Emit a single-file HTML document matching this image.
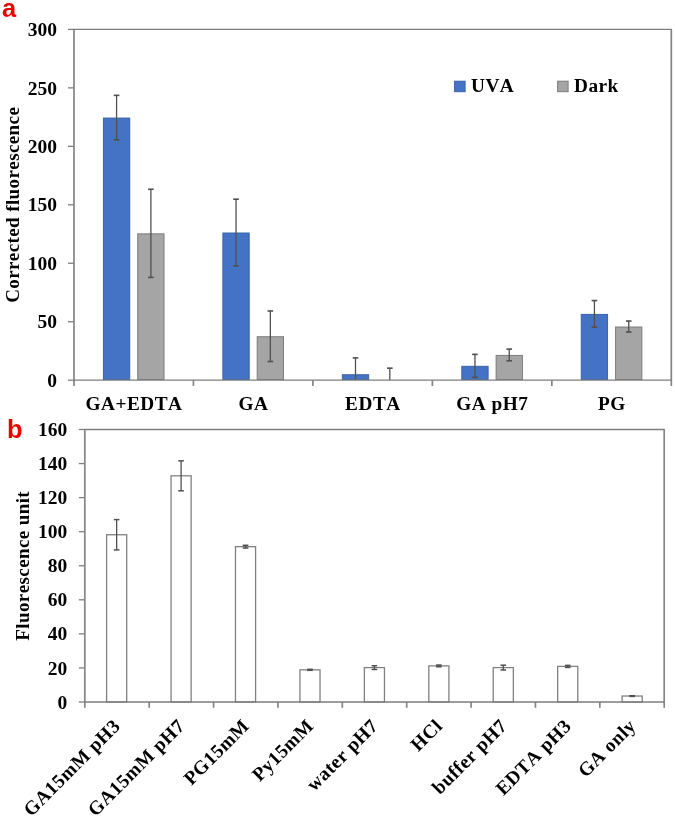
<!DOCTYPE html>
<html><head><meta charset="utf-8"><style>
html,body{margin:0;padding:0;background:#fff;width:675px;height:817px;overflow:hidden}
svg{display:block;font-kerning:none;will-change:transform}
.t{font-kerning:none;font-family:"Liberation Serif",serif;font-weight:bold;font-size:20px;fill:#000}
.b{font-size:20px}
.bt{font-size:19.5px}
.yl{font-size:19px;letter-spacing:0.4px}
.xl{font-size:19.3px;letter-spacing:0.5px}
.p{font-family:"Liberation Sans",sans-serif;font-weight:bold;font-size:25.5px;fill:#ee0000}
</style></head><body>
<svg width="675" height="817" viewBox="0 0 675 817">
<line x1="68.0" y1="380.2" x2="74.0" y2="380.2" stroke="#7e7e7e" stroke-width="1.3"/>
<text x="57" y="386.9" class="t bt" text-anchor="end">0</text>
<line x1="68.0" y1="321.73" x2="74.0" y2="321.73" stroke="#7e7e7e" stroke-width="1.3"/>
<text x="57" y="328.43" class="t bt" text-anchor="end">50</text>
<line x1="68.0" y1="263.26" x2="74.0" y2="263.26" stroke="#7e7e7e" stroke-width="1.3"/>
<text x="57" y="269.96" class="t bt" text-anchor="end">100</text>
<line x1="68.0" y1="204.79" x2="74.0" y2="204.79" stroke="#7e7e7e" stroke-width="1.3"/>
<text x="57" y="211.49" class="t bt" text-anchor="end">150</text>
<line x1="68.0" y1="146.33" x2="74.0" y2="146.33" stroke="#7e7e7e" stroke-width="1.3"/>
<text x="57" y="153.03" class="t bt" text-anchor="end">200</text>
<line x1="68.0" y1="87.86" x2="74.0" y2="87.86" stroke="#7e7e7e" stroke-width="1.3"/>
<text x="57" y="94.56" class="t bt" text-anchor="end">250</text>
<line x1="68.0" y1="29.39" x2="74.0" y2="29.39" stroke="#7e7e7e" stroke-width="1.3"/>
<text x="57" y="36.09" class="t bt" text-anchor="end">300</text>
<line x1="74.0" y1="380.2" x2="74.0" y2="386.0" stroke="#858585" stroke-width="1.7"/>
<line x1="193.45" y1="380.2" x2="193.45" y2="386.0" stroke="#858585" stroke-width="1.7"/>
<line x1="312.91" y1="380.2" x2="312.91" y2="386.0" stroke="#858585" stroke-width="1.7"/>
<line x1="432.38" y1="380.2" x2="432.38" y2="386.0" stroke="#858585" stroke-width="1.7"/>
<line x1="551.83" y1="380.2" x2="551.83" y2="386.0" stroke="#858585" stroke-width="1.7"/>
<line x1="671.3" y1="380.2" x2="671.3" y2="386.0" stroke="#858585" stroke-width="1.7"/>
<rect x="103.43" y="118.07" width="26.30" height="261.43" fill="#4472c4" stroke="#3b63aa" stroke-width="1"/>
<line x1="116.58" y1="95.35" x2="116.58" y2="139.79" stroke="#505050" stroke-width="1.3"/>
<line x1="113.78" y1="95.35" x2="119.38" y2="95.35" stroke="#505050" stroke-width="1.6"/>
<line x1="113.78" y1="139.79" x2="119.38" y2="139.79" stroke="#505050" stroke-width="1.6"/>
<rect x="137.73" y="233.83" width="26.30" height="145.67" fill="#a5a5a5" stroke="#7d7d7d" stroke-width="1"/>
<line x1="150.88" y1="189.25" x2="150.88" y2="277.42" stroke="#505050" stroke-width="1.3"/>
<line x1="148.08" y1="189.25" x2="153.68" y2="189.25" stroke="#505050" stroke-width="1.6"/>
<line x1="148.08" y1="277.42" x2="153.68" y2="277.42" stroke="#505050" stroke-width="1.6"/>
<text x="133.98" y="410.4" class="t xl" text-anchor="middle">GA+EDTA</text>
<rect x="222.89" y="233.01" width="26.30" height="146.49" fill="#4472c4" stroke="#3b63aa" stroke-width="1"/>
<line x1="236.04" y1="199.19" x2="236.04" y2="265.84" stroke="#505050" stroke-width="1.3"/>
<line x1="233.24" y1="199.19" x2="238.84" y2="199.19" stroke="#505050" stroke-width="1.6"/>
<line x1="233.24" y1="265.84" x2="238.84" y2="265.84" stroke="#505050" stroke-width="1.6"/>
<rect x="257.19" y="336.73" width="26.30" height="42.77" fill="#a5a5a5" stroke="#7d7d7d" stroke-width="1"/>
<line x1="270.34" y1="310.98" x2="270.34" y2="361.49" stroke="#505050" stroke-width="1.3"/>
<line x1="267.54" y1="310.98" x2="273.14" y2="310.98" stroke="#505050" stroke-width="1.6"/>
<line x1="267.54" y1="361.49" x2="273.14" y2="361.49" stroke="#505050" stroke-width="1.6"/>
<text x="253.44" y="410.4" class="t xl" text-anchor="middle">GA</text>
<rect x="342.35" y="374.74" width="26.30" height="4.76" fill="#4472c4" stroke="#3b63aa" stroke-width="1"/>
<line x1="355.50" y1="357.87" x2="355.50" y2="380.20" stroke="#505050" stroke-width="1.3"/>
<line x1="352.70" y1="357.87" x2="358.30" y2="357.87" stroke="#505050" stroke-width="1.6"/>
<line x1="389.80" y1="368.16" x2="389.80" y2="380.20" stroke="#505050" stroke-width="1.3"/>
<line x1="387.00" y1="368.16" x2="392.60" y2="368.16" stroke="#505050" stroke-width="1.6"/>
<text x="372.90" y="410.4" class="t xl" text-anchor="middle">EDTA</text>
<rect x="461.81" y="366.32" width="26.30" height="13.18" fill="#4472c4" stroke="#3b63aa" stroke-width="1"/>
<line x1="474.96" y1="354.36" x2="474.96" y2="377.28" stroke="#505050" stroke-width="1.3"/>
<line x1="472.16" y1="354.36" x2="477.76" y2="354.36" stroke="#505050" stroke-width="1.6"/>
<line x1="472.16" y1="377.28" x2="477.76" y2="377.28" stroke="#505050" stroke-width="1.6"/>
<rect x="496.11" y="355.44" width="26.30" height="24.06" fill="#a5a5a5" stroke="#7d7d7d" stroke-width="1"/>
<line x1="509.26" y1="349.10" x2="509.26" y2="360.79" stroke="#505050" stroke-width="1.3"/>
<line x1="506.46" y1="349.10" x2="512.06" y2="349.10" stroke="#505050" stroke-width="1.6"/>
<line x1="506.46" y1="360.79" x2="512.06" y2="360.79" stroke="#505050" stroke-width="1.6"/>
<text x="492.36" y="410.4" class="t xl" text-anchor="middle">GA pH7</text>
<rect x="581.27" y="314.40" width="26.30" height="65.10" fill="#4472c4" stroke="#3b63aa" stroke-width="1"/>
<line x1="594.42" y1="300.57" x2="594.42" y2="327.23" stroke="#505050" stroke-width="1.3"/>
<line x1="591.62" y1="300.57" x2="597.22" y2="300.57" stroke="#505050" stroke-width="1.6"/>
<line x1="591.62" y1="327.23" x2="597.22" y2="327.23" stroke="#505050" stroke-width="1.6"/>
<rect x="615.57" y="327.03" width="26.30" height="52.47" fill="#a5a5a5" stroke="#7d7d7d" stroke-width="1"/>
<line x1="628.72" y1="321.03" x2="628.72" y2="332.02" stroke="#505050" stroke-width="1.3"/>
<line x1="625.92" y1="321.03" x2="631.52" y2="321.03" stroke="#505050" stroke-width="1.6"/>
<line x1="625.92" y1="332.02" x2="631.52" y2="332.02" stroke="#505050" stroke-width="1.6"/>
<text x="611.82" y="410.4" class="t xl" text-anchor="middle">PG</text>
<path d="M73.4 29.4 H672.0 M73.4 380.2 H672.0" fill="none" stroke="#7e7e7e" stroke-width="1.3"/>
<path d="M74.0 29.4 V380.2 M671.3 29.4 V380.2" fill="none" stroke="#858585" stroke-width="1.7"/>
<rect x="454.6" y="81.2" width="10.5" height="10.5" fill="#4472c4" stroke="#3b63aa" stroke-width="1"/>
<text x="471" y="92.3" class="t xl">UVA</text>
<rect x="557.6" y="81.2" width="10.5" height="10.5" fill="#a5a5a5" stroke="#7d7d7d" stroke-width="1"/>
<text x="574" y="92.3" class="t xl">Dark</text>
<text transform="translate(19.2 204.8) rotate(-90)" class="t yl" text-anchor="middle">Corrected fluorescence</text>
<text x="2" y="17" class="p">a</text>
<line x1="78.8" y1="702.0" x2="84.8" y2="702.0" stroke="#7e7e7e" stroke-width="1.3"/>
<text x="67.2" y="708.6" class="t bt" text-anchor="end">0</text>
<line x1="78.8" y1="667.93" x2="84.8" y2="667.93" stroke="#7e7e7e" stroke-width="1.3"/>
<text x="67.2" y="674.53" class="t bt" text-anchor="end">20</text>
<line x1="78.8" y1="633.87" x2="84.8" y2="633.87" stroke="#7e7e7e" stroke-width="1.3"/>
<text x="67.2" y="640.47" class="t bt" text-anchor="end">40</text>
<line x1="78.8" y1="599.81" x2="84.8" y2="599.81" stroke="#7e7e7e" stroke-width="1.3"/>
<text x="67.2" y="606.41" class="t bt" text-anchor="end">60</text>
<line x1="78.8" y1="565.75" x2="84.8" y2="565.75" stroke="#7e7e7e" stroke-width="1.3"/>
<text x="67.2" y="572.35" class="t bt" text-anchor="end">80</text>
<line x1="78.8" y1="531.68" x2="84.8" y2="531.68" stroke="#7e7e7e" stroke-width="1.3"/>
<text x="67.2" y="538.28" class="t bt" text-anchor="end">100</text>
<line x1="78.8" y1="497.62" x2="84.8" y2="497.62" stroke="#7e7e7e" stroke-width="1.3"/>
<text x="67.2" y="504.22" class="t bt" text-anchor="end">120</text>
<line x1="78.8" y1="463.56" x2="84.8" y2="463.56" stroke="#7e7e7e" stroke-width="1.3"/>
<text x="67.2" y="470.16" class="t bt" text-anchor="end">140</text>
<line x1="78.8" y1="429.5" x2="84.8" y2="429.5" stroke="#7e7e7e" stroke-width="1.3"/>
<text x="67.2" y="436.1" class="t bt" text-anchor="end">160</text>
<line x1="84.8" y1="702.0" x2="84.8" y2="707.8" stroke="#858585" stroke-width="1.7"/>
<line x1="149.17" y1="702.0" x2="149.17" y2="707.8" stroke="#858585" stroke-width="1.7"/>
<line x1="213.55" y1="702.0" x2="213.55" y2="707.8" stroke="#858585" stroke-width="1.7"/>
<line x1="277.93" y1="702.0" x2="277.93" y2="707.8" stroke="#858585" stroke-width="1.7"/>
<line x1="342.31" y1="702.0" x2="342.31" y2="707.8" stroke="#858585" stroke-width="1.7"/>
<line x1="406.68" y1="702.0" x2="406.68" y2="707.8" stroke="#858585" stroke-width="1.7"/>
<line x1="471.06" y1="702.0" x2="471.06" y2="707.8" stroke="#858585" stroke-width="1.7"/>
<line x1="535.44" y1="702.0" x2="535.44" y2="707.8" stroke="#858585" stroke-width="1.7"/>
<line x1="599.82" y1="702.0" x2="599.82" y2="707.8" stroke="#858585" stroke-width="1.7"/>
<line x1="664.2" y1="702.0" x2="664.2" y2="707.8" stroke="#858585" stroke-width="1.7"/>
<rect x="106.60" y="534.75" width="20.10" height="167.25" fill="#fff" stroke="#818181" stroke-width="1.3"/>
<line x1="116.65" y1="519.60" x2="116.65" y2="549.91" stroke="#505050" stroke-width="1.3"/>
<line x1="113.85" y1="519.60" x2="119.45" y2="519.60" stroke="#505050" stroke-width="1.5"/>
<line x1="113.85" y1="549.91" x2="119.45" y2="549.91" stroke="#505050" stroke-width="1.5"/>
<text transform="translate(121.45 727.0) rotate(-45)" class="t xl" text-anchor="end">GA15mM pH3</text>
<rect x="171.04" y="475.82" width="20.10" height="226.18" fill="#fff" stroke="#818181" stroke-width="1.3"/>
<line x1="181.09" y1="460.84" x2="181.09" y2="490.81" stroke="#505050" stroke-width="1.3"/>
<line x1="178.29" y1="460.84" x2="183.89" y2="460.84" stroke="#505050" stroke-width="1.5"/>
<line x1="178.29" y1="490.81" x2="183.89" y2="490.81" stroke="#505050" stroke-width="1.5"/>
<text transform="translate(185.89 727.0) rotate(-45)" class="t xl" text-anchor="end">GA15mM pH7</text>
<rect x="235.48" y="546.67" width="20.10" height="155.33" fill="#fff" stroke="#818181" stroke-width="1.3"/>
<line x1="245.53" y1="545.31" x2="245.53" y2="548.04" stroke="#505050" stroke-width="1.3"/>
<line x1="242.73" y1="545.31" x2="248.33" y2="545.31" stroke="#505050" stroke-width="1.5"/>
<line x1="242.73" y1="548.04" x2="248.33" y2="548.04" stroke="#505050" stroke-width="1.5"/>
<text transform="translate(250.33 727.0) rotate(-45)" class="t xl" text-anchor="end">PG15mM</text>
<rect x="299.92" y="669.81" width="20.10" height="32.19" fill="#fff" stroke="#818181" stroke-width="1.3"/>
<line x1="309.97" y1="669.30" x2="309.97" y2="670.32" stroke="#505050" stroke-width="1.3"/>
<line x1="307.17" y1="669.30" x2="312.77" y2="669.30" stroke="#505050" stroke-width="1.5"/>
<line x1="307.17" y1="670.32" x2="312.77" y2="670.32" stroke="#505050" stroke-width="1.5"/>
<text transform="translate(314.77 727.0) rotate(-45)" class="t xl" text-anchor="end">Py15mM</text>
<rect x="364.36" y="667.60" width="20.10" height="34.40" fill="#fff" stroke="#818181" stroke-width="1.3"/>
<line x1="374.41" y1="665.72" x2="374.41" y2="669.47" stroke="#505050" stroke-width="1.3"/>
<line x1="371.61" y1="665.72" x2="377.21" y2="665.72" stroke="#505050" stroke-width="1.5"/>
<line x1="371.61" y1="669.47" x2="377.21" y2="669.47" stroke="#505050" stroke-width="1.5"/>
<text transform="translate(379.21 727.0) rotate(-45)" class="t xl" text-anchor="end">water pH7</text>
<rect x="428.80" y="665.89" width="20.10" height="36.11" fill="#fff" stroke="#818181" stroke-width="1.3"/>
<line x1="438.85" y1="665.04" x2="438.85" y2="666.75" stroke="#505050" stroke-width="1.3"/>
<line x1="436.05" y1="665.04" x2="441.65" y2="665.04" stroke="#505050" stroke-width="1.5"/>
<line x1="436.05" y1="666.75" x2="441.65" y2="666.75" stroke="#505050" stroke-width="1.5"/>
<text transform="translate(443.65 727.0) rotate(-45)" class="t xl" text-anchor="end">HCl</text>
<rect x="493.24" y="667.60" width="20.10" height="34.40" fill="#fff" stroke="#818181" stroke-width="1.3"/>
<line x1="503.29" y1="665.21" x2="503.29" y2="669.98" stroke="#505050" stroke-width="1.3"/>
<line x1="500.49" y1="665.21" x2="506.09" y2="665.21" stroke="#505050" stroke-width="1.5"/>
<line x1="500.49" y1="669.98" x2="506.09" y2="669.98" stroke="#505050" stroke-width="1.5"/>
<text transform="translate(508.09 727.0) rotate(-45)" class="t xl" text-anchor="end">buffer pH7</text>
<rect x="557.68" y="666.40" width="20.10" height="35.60" fill="#fff" stroke="#818181" stroke-width="1.3"/>
<line x1="567.73" y1="665.38" x2="567.73" y2="667.43" stroke="#505050" stroke-width="1.3"/>
<line x1="564.93" y1="665.38" x2="570.53" y2="665.38" stroke="#505050" stroke-width="1.5"/>
<line x1="564.93" y1="667.43" x2="570.53" y2="667.43" stroke="#505050" stroke-width="1.5"/>
<text transform="translate(572.53 727.0) rotate(-45)" class="t xl" text-anchor="end">EDTA pH3</text>
<rect x="622.12" y="696.04" width="20.10" height="5.96" fill="#fff" stroke="#818181" stroke-width="1.3"/>
<line x1="632.17" y1="695.70" x2="632.17" y2="696.38" stroke="#505050" stroke-width="1.3"/>
<line x1="629.37" y1="695.70" x2="634.97" y2="695.70" stroke="#505050" stroke-width="1.5"/>
<line x1="629.37" y1="696.38" x2="634.97" y2="696.38" stroke="#505050" stroke-width="1.5"/>
<text transform="translate(636.97 727.0) rotate(-45)" class="t xl" text-anchor="end">GA only</text>
<path d="M84.2 429.5 H664.90 M84.2 702.0 H664.90" fill="none" stroke="#7e7e7e" stroke-width="1.3"/>
<path d="M84.8 429.5 V702.0 M664.2 429.5 V702.0" fill="none" stroke="#858585" stroke-width="1.7"/>
<text transform="translate(29.4 565.8) rotate(-90)" class="t yl" text-anchor="middle">Fluorescence unit</text>
<text x="7" y="437.5" class="p">b</text>
</svg>
</body></html>
